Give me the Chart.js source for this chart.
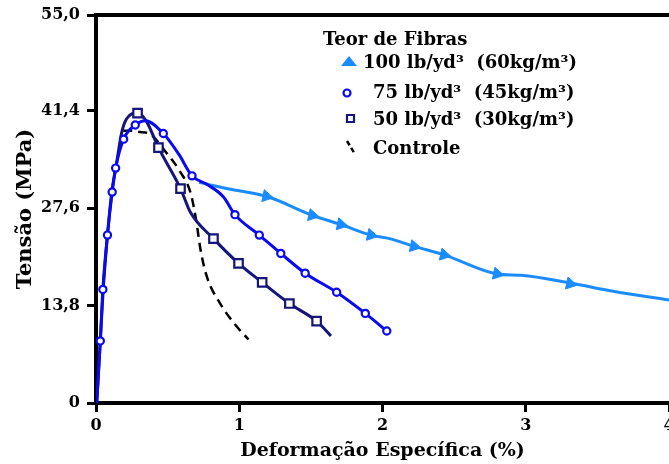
<!DOCTYPE html>
<html lang="pt">
<head>
<meta charset="utf-8">
<title>Tensão x Deformação</title>
<script src="https://cdn.jsdelivr.net/npm/chart.js@4.4.1/dist/chart.umd.min.js"></script>
<style>
    html, body { margin: 0; padding: 0; background: #fff; }
    #wrap { width: 669px; height: 464px; }
</style>
</head>
<body>
<div id="wrap"><canvas id="chart" width="669" height="464"></canvas></div>
<script>
// Axis ticks
const xTicks = [0, 1, 2, 3, 4];
const yTicks = [0, 13.8, 27.6, 41.4, 55.0];

// Legend text
const legendTitle = 'Teor de Fibras';
const legendLabels = ['100 lb/yd³  (60kg/m³)', '75 lb/yd³  (45kg/m³)', '50 lb/yd³  (30kg/m³)', 'Controle'];

// 100 lb/yd3 - curve (branches off the 75 curve) and triangle markers
const strain100 = [0.72, 0.774, 0.94, 1.19, 1.51, 1.71, 1.92, 2.05, 2.22, 2.43, 2.80, 2.97, 3.31, 3.62, 4.0];
const stress100 = [31.3, 31.0, 30.3, 29.3, 26.6, 25.3, 23.8, 23.3, 22.2, 21.0, 18.3, 18.1, 17.0, 15.8, 14.6];
const strain100Pts = [1.19, 1.51, 1.71, 1.92, 2.22, 2.43, 2.80, 3.31];
const stress100Pts = [29.3, 26.6, 25.3, 23.8, 22.2, 21.0, 18.3, 16.9];

// 75 lb/yd3 - curve and circle markers
const strain75 = [0.005, 0.03, 0.048, 0.08, 0.113, 0.137, 0.193, 0.274, 0.345, 0.47, 0.58, 0.67, 0.774, 0.89, 0.97, 1.14, 1.29, 1.46, 1.68, 1.88, 2.03];
const stress75 = [0, 8.8, 16.1, 23.8, 29.9, 33.3, 37.4, 39.4, 40.0, 38.2, 35.2, 32.2, 31.0, 29.2, 26.7, 23.8, 21.2, 18.4, 15.7, 12.7, 10.2];
const strain75Pts = [0.03, 0.048, 0.08, 0.113, 0.137, 0.193, 0.274, 0.47, 0.67, 0.97, 1.14, 1.29, 1.46, 1.68, 1.88, 2.03];
const stress75Pts = [8.8, 16.1, 23.8, 29.9, 33.3, 37.4, 39.4, 38.2, 32.2, 26.7, 23.8, 21.2, 18.4, 15.7, 12.7, 10.2];

// 50 lb/yd3 - curve and square markers
const strain50 = [0.005, 0.03, 0.05, 0.08, 0.11, 0.14, 0.18, 0.214, 0.29, 0.35, 0.436, 0.59, 0.66, 0.82, 0.995, 1.16, 1.35, 1.54, 1.64];
const stress50 = [0, 8.8, 16.0, 23.8, 29.9, 33.5, 38.4, 40.3, 41.1, 40.0, 36.2, 30.4, 27.0, 23.3, 19.8, 17.1, 14.1, 11.6, 9.5];
const strain50Pts = [0.29, 0.436, 0.59, 0.82, 0.995, 1.16, 1.35, 1.54];
const stress50Pts = [41.1, 36.2, 30.4, 23.3, 19.8, 17.1, 14.1, 11.6];

// Controle - dashed curve
const strainCtrl = [0.19, 0.25, 0.31, 0.36, 0.49, 0.59, 0.66, 0.70, 0.73, 0.774, 0.867, 0.984, 1.065];
const stressCtrl = [38.6, 38.6, 38.4, 38.3, 35.5, 32.7, 29.8, 25.8, 21.7, 17.9, 14.1, 10.8, 9.0];

const colors = { c100: '#1a8cff', c75: '#0a0af0', c50: '#15157a', ctrl: '#000000' };
const serif = '"DejaVu Serif", "Liberation Serif", serif';

const zip = (xs, ys) => xs.map((x, i) => ({ x: x, y: ys[i] }));

const lineSet = (data, color, order, extra) => Object.assign({
    data: data,
    showLine: true,
    borderColor: color,
    borderWidth: 3,
    pointRadius: 0,
    cubicInterpolationMode: 'monotone',
    order: order
}, extra || {});

const markSet = (data, color, style, radius, order, extra) => Object.assign({
    data: data,
    showLine: false,
    pointStyle: style,
    pointRadius: radius,
    pointBorderColor: color,
    pointBackgroundColor: '#fff',
    pointBorderWidth: 2.2,
    order: order
}, extra || {});

// Top frame line and the legend block
const frameAndLegend = {
    id: 'frameAndLegend',
    afterDraw(chart) {
        const ctx = chart.ctx;
        const a = chart.chartArea;
        ctx.save();
        ctx.strokeStyle = '#000';
        ctx.lineWidth = 4;
        ctx.beginPath();
        ctx.moveTo(a.left - 2, a.top);
        ctx.lineTo(a.right, a.top);
        ctx.stroke();

        ctx.fillStyle = '#000';
        ctx.textBaseline = 'alphabetic';
        ctx.font = 'bold 18px ' + serif;
        ctx.fillText(legendTitle, 323, 45);
        ctx.fillText(legendLabels[0], 363, 68);
        ctx.fillText(legendLabels[1], 373, 98);
        ctx.fillText(legendLabels[2], 373, 125);
        ctx.fillText(legendLabels[3], 373, 154);

        // triangle
        ctx.fillStyle = colors.c100;
        ctx.beginPath();
        ctx.moveTo(349, 56);
        ctx.lineTo(357, 66);
        ctx.lineTo(341, 66);
        ctx.closePath();
        ctx.fill();

        // circle
        ctx.strokeStyle = colors.c75;
        ctx.lineWidth = 2.2;
        ctx.fillStyle = '#fff';
        ctx.beginPath();
        ctx.arc(347, 93, 3.5, 0, Math.PI * 2);
        ctx.fill();
        ctx.stroke();

        // square
        ctx.strokeStyle = colors.c50;
        ctx.beginPath();
        ctx.rect(347, 115, 7, 7);
        ctx.fill();
        ctx.stroke();

        // dashed mark
        ctx.strokeStyle = colors.ctrl;
        ctx.lineWidth = 2.5;
        ctx.setLineDash([5, 3]);
        ctx.beginPath();
        ctx.moveTo(347, 141);
        ctx.lineTo(355, 154);
        ctx.stroke();
        ctx.restore();
    }
};

new Chart(document.getElementById('chart'), {
    type: 'scatter',
    data: {
        datasets: [
            markSet(zip(strain75Pts, stress75Pts), colors.c75, 'circle', 3.6, 0),
            lineSet(zip(strain75, stress75), colors.c75, 1),
            markSet(zip(strain50Pts, stress50Pts), colors.c50, 'rect', 6, 2),
            lineSet(zip(strain50, stress50), colors.c50, 3),
            lineSet(zip(strainCtrl, stressCtrl), colors.ctrl, 4, { borderWidth: 2.5, borderDash: [9, 6] }),
            markSet(zip(strain100Pts, stress100Pts), colors.c100, 'triangle', 7, 5,
                { pointBackgroundColor: colors.c100, pointBorderWidth: 1, rotation: 102 }),
            lineSet(zip(strain100, stress100), colors.c100, 6)
        ]
    },
    options: {
        responsive: false,
        animation: false,
        events: [],
        layout: { autoPadding: false, padding: { top: 15, right: 0, bottom: 0, left: 0 } },
        plugins: {
            legend: { display: false },
            tooltip: { enabled: false }
        },
        scales: {
            x: {
                type: 'linear',
                min: 0,
                max: 4,
                afterBuildTicks: s => { s.ticks = xTicks.map(v => ({ value: v })); },
                afterFit: s => { s.height = 61; s.paddingLeft = 0; s.paddingRight = 0; },
                border: { display: true, color: '#000', width: 4 },
                grid: { drawOnChartArea: false, tickLength: 9, tickWidth: 3, tickColor: '#000' },
                ticks: {
                    color: '#000',
                    padding: 4,
                    maxRotation: 0,
                    autoSkip: false,
                    font: { family: serif, size: 16, weight: 'bold' }
                },
                title: {
                    display: true,
                    text: 'Deformação Específica (%)',
                    color: '#000',
                    padding: { top: 0, bottom: 2 },
                    font: { family: serif, size: 19, weight: 'bold' }
                }
            },
            y: {
                min: 0,
                max: 55,
                afterBuildTicks: s => { s.ticks = yTicks.map(v => ({ value: v })); },
                afterFit: s => { s.width = 96; s.paddingTop = 0; s.paddingBottom = 0; },
                border: { display: true, color: '#000', width: 4 },
                grid: { drawOnChartArea: false, tickLength: 9, tickWidth: 3, tickColor: '#000' },
                ticks: {
                    color: '#000',
                    padding: 7,
                    autoSkip: false,
                    font: { family: serif, size: 16, weight: 'bold' },
                    callback: v => v === 0 ? '0' : v.toFixed(1).replace('.', ',')
                },
                title: {
                    display: true,
                    text: 'Tensão (MPa)',
                    color: '#000',
                    padding: { top: 13, bottom: 0 },
                    font: { family: serif, size: 21, weight: 'bold' }
                }
            }
        }
    },
    plugins: [frameAndLegend]
});
</script>
</body>
</html>
